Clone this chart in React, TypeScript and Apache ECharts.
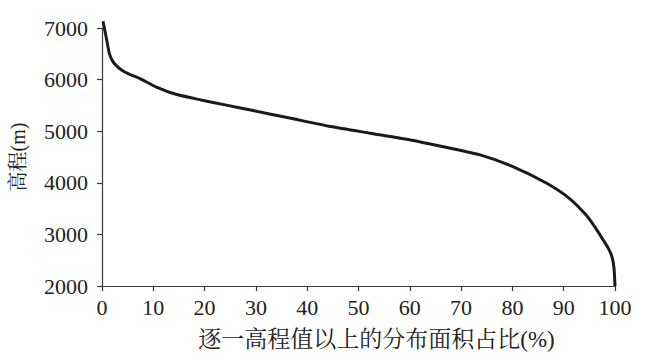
import React, { useEffect, useRef } from "react";
import * as echarts from "echarts";

const areaPct: number[] = [0.2, 0.5, 0.8, 1.4, 2.0, 2.7, 3.8, 5.3, 7.3, 10.5, 14.4, 19.3, 24, 29, 36.8, 44.6, 52.3, 60.1, 67.9, 73.7, 80.2, 86.7, 91.2, 94.5, 96.2, 97.7, 98.7, 99.4, 99.8, 100];
const elevation: number[] = [7130, 6980, 6830, 6520, 6370, 6280, 6185, 6105, 6025, 5860, 5715, 5605, 5510, 5410, 5250, 5090, 4960, 4830, 4670, 4540, 4310, 3990, 3690, 3360, 3125, 2890, 2730, 2570, 2350, 2000];

const xName = "逐一高程值以上的分布面积占比(%)";
const yName = "高程(m)";

const serif = '"Liberation Serif", "Noto Serif CJK SC", "Noto Sans CJK SC", serif';

export default function App() {
  const ref = useRef<HTMLDivElement>(null);
  useEffect(() => {
    if (!ref.current) return;
    const chart = echarts.init(ref.current, undefined, { renderer: "svg" });
    const axisColor = "#3a3a3a";
    chart.setOption({
      animation: false,
      backgroundColor: "#ffffff",
      grid: { left: 101, right: 36, top: 28, bottom: 75, containLabel: false },
      xAxis: {
        type: "value",
        min: 0,
        max: 100,
        interval: 10,
        name: xName,
        nameLocation: "middle",
        nameGap: 42,
        nameTextStyle: { fontFamily: serif, fontSize: 23, color: "#222222", padding: [0, 0, 0, 36] },
        axisLine: { show: true, onZero: false, lineStyle: { color: axisColor, width: 1.2 } },
        axisTick: { show: true, inside: false, length: 5, lineStyle: { color: axisColor, width: 1.2 } },
        axisLabel: { fontFamily: serif, fontSize: 22, color: "#222222", margin: 10, formatter: (v: number) => String(v) },
        splitLine: { show: false },
      },
      yAxis: {
        type: "value",
        min: 2000,
        max: 7000,
        interval: 1000,
        name: yName,
        nameLocation: "middle",
        nameRotate: 90,
        nameGap: 74,
        nameTextStyle: { fontFamily: serif, fontSize: 20, color: "#222222" },
        axisLine: { show: true, lineStyle: { color: axisColor, width: 1.2 } },
        axisTick: { show: true, inside: false, length: 5, lineStyle: { color: axisColor, width: 1.2 } },
        axisLabel: { fontFamily: serif, fontSize: 22, color: "#222222", margin: 14, formatter: (v: number) => String(v) },
        splitLine: { show: false },
      },
      series: [
        {
          type: "line",
          data: areaPct.map((x, i) => [x, elevation[i]]),
          smooth: 0.2,
          clip: false,
          showSymbol: false,
          symbol: "none",
          lineStyle: { color: "#1a1a1a", width: 3 },
        },
      ],
    });
    return () => chart.dispose();
  }, []);
  return <div ref={ref} style={{ width: 651, height: 361, position: "absolute", left: 0, top: 0 }} />;
}
